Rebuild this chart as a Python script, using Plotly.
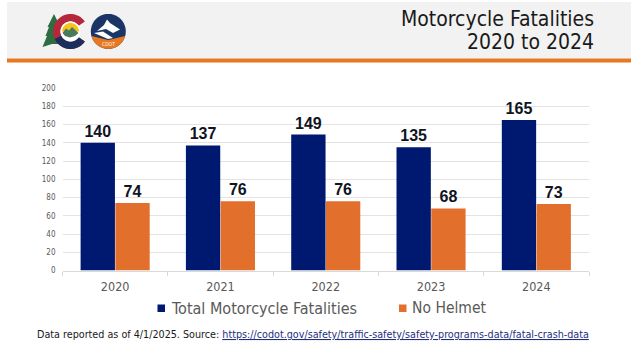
import math
import plotly.graph_objects as go

W, H = 641, 350
years = ["2020", "2021", "2022", "2023", "2024"]
total_fatalities = [140, 137, 149, 135, 165]
no_helmet = [74, 76, 76, 68, 73]
y_ticks = [0, 20, 40, 60, 80, 100, 120, 140, 160, 180, 200]
series_names = ["Total Motorcycle Fatalities", "No Helmet"]

FONT = "DejaVu Sans Condensed, DejaVu Sans, sans-serif"
NAVY = "#001970"
ORANGE = "#E26F2C"


def poly(points, fill):
    d = "M " + " L ".join(f"{x / W:.5f},{1 - y / H:.5f}" for x, y in points) + " Z"
    return dict(type="path", path=d, xref="paper", yref="paper", fillcolor=fill, line_width=0, layer="above")


def arc(cx, cy, r, a0, a1, n=40):
    return [(cx + r * math.cos(math.radians(a0 + (a1 - a0) * i / n)),
             cy - r * math.sin(math.radians(a0 + (a1 - a0) * i / n))) for i in range(n + 1)]


def rect(x0, y0, x1, y1, fill):
    return dict(type="rect", xref="paper", yref="paper", x0=x0 / W, x1=x1 / W, y0=1 - y0 / H, y1=1 - y1 / H,
                fillcolor=fill, line_width=0, layer="below")


def label(text, x, y, anchor, size, color, align="left"):
    return dict(text=text, xref="paper", yref="paper", x=x / W, y=1 - y / H, xanchor=anchor, yanchor="middle",
                align=align, showarrow=False, font=dict(family=FONT, size=size, color=color))


shapes = [
    rect(7, 2, 631, 58.5, "#F2F2F2"),
    rect(7, 58.5, 631, 62.5, "#E87722"),
    # legend swatches
    rect(157.5, 304.5, 165, 312, NAVY),
    rect(399, 304.5, 406.5, 312, ORANGE),
    # Colorado logo
    poly([(42.5, 47), (47, 36), (45.5, 36), (49, 27), (47.5, 27), (54, 14), (59, 24), (58, 44), (52, 44)], "#2C6E3F"),
    poly(arc(70.5, 31.5, 17.5, 35, 325) + arc(70.5, 31.5, 10, 325, 35), "#B5283C"),
    poly(arc(70.5, 31.5, 17.5, 205, 325) + arc(70.5, 31.5, 10, 325, 205), "#1C2F5C"),
    poly(arc(70.5, 31.5, 10, 0, 360), "#FFFFFF"),
    poly(arc(70.5, 31.5, 8.5, 0, 180), "#F3C41E"),
    poly([(62.5, 33), (66, 28.5), (69, 30.5), (72, 27), (78.5, 33), (75, 36), (70, 37.5), (65, 36)], "#4A7A5C"),
    # CDOT logo
    poly(arc(108.3, 31.4, 17.5, 0, 360), "#1C3567"),
    poly(arc(108.3, 31.4, 17.5, 195, 345) + [(108.3, 40)], "#E87722"),
    poly([(97, 31), (104, 25), (107, 19.5), (110, 23), (120, 29.5), (113, 33), (106, 29)], "#FFFFFF"),
    poly([(94, 33), (103, 31.5), (113, 38), (108, 39)], "#FFFFFF"),
]

fig = go.Figure()
for name, values, color in [(series_names[0], total_fatalities, NAVY), (series_names[1], no_helmet, ORANGE)]:
    fig.add_bar(x=years, y=values, name=name, marker=dict(color=color, line_width=0),
                text=values, textposition="outside", cliponaxis=False,
                textfont=dict(family="Liberation Sans, Arial, sans-serif", size=16, color="#10141F", weight=600))

fig.update_layout(
    width=W, height=H, autosize=False,
    margin=dict(l=0, r=0, t=0, b=0, autoexpand=False),
    paper_bgcolor="#FFFFFF", plot_bgcolor="#FFFFFF",
    font=dict(family=FONT),
    barmode="group", bargap=0.34, bargroupgap=0.012,
    shapes=shapes,
    showlegend=False,
    xaxis=dict(domain=[62.5 / W, 589 / W], type="category", tickson="boundaries", ticks="outside", ticklen=4,
               tickcolor="#D9D9D9", showline=True, linecolor="#D9D9D9", showgrid=False, ticklabelstandoff=4,
               tickfont=dict(family=FONT, size=12.5, color="#595959")),
    yaxis=dict(domain=[1 - 270.5 / H, 1 - 88 / H], range=[0, 200], tickvals=y_ticks, gridcolor="#E3E3E3",
               zeroline=False, ticks="", ticklabelstandoff=6,
               tickfont=dict(family=FONT, size=8, color="#595959")),
    annotations=[
        label("Motorcycle Fatalities", 596, 19, "right", 21, "#1A1A1A", "right"),
        label("2020 to 2024", 596, 42, "right", 21, "#1A1A1A", "right"),
        label("CDOT", 108.3, 44, "center", 5, "#FFFFFF", "center"),
        label(series_names[0], 169, 308, "left", 16, "#595959"),
        label(series_names[1], 409.5, 308, "left", 15.5, "#595959"),
        label('Data reported as of 4/1/2025. Source: <a href="https://codot.gov/safety/traffic-safety/safety-programs-data/fatal-crash-data" style="color:#1F2F80"><u>https://codot.gov/safety/traffic-safety/safety-programs-data/fatal-crash-data</u></a>',
              35, 334.5, "left", 10.7, "#1A1A1A"),
    ],
)
fig.write_html("out.html", config={"displayModeBar": False},
               post_script="document.body.style.margin='0';document.documentElement.style.overflow='hidden';")
